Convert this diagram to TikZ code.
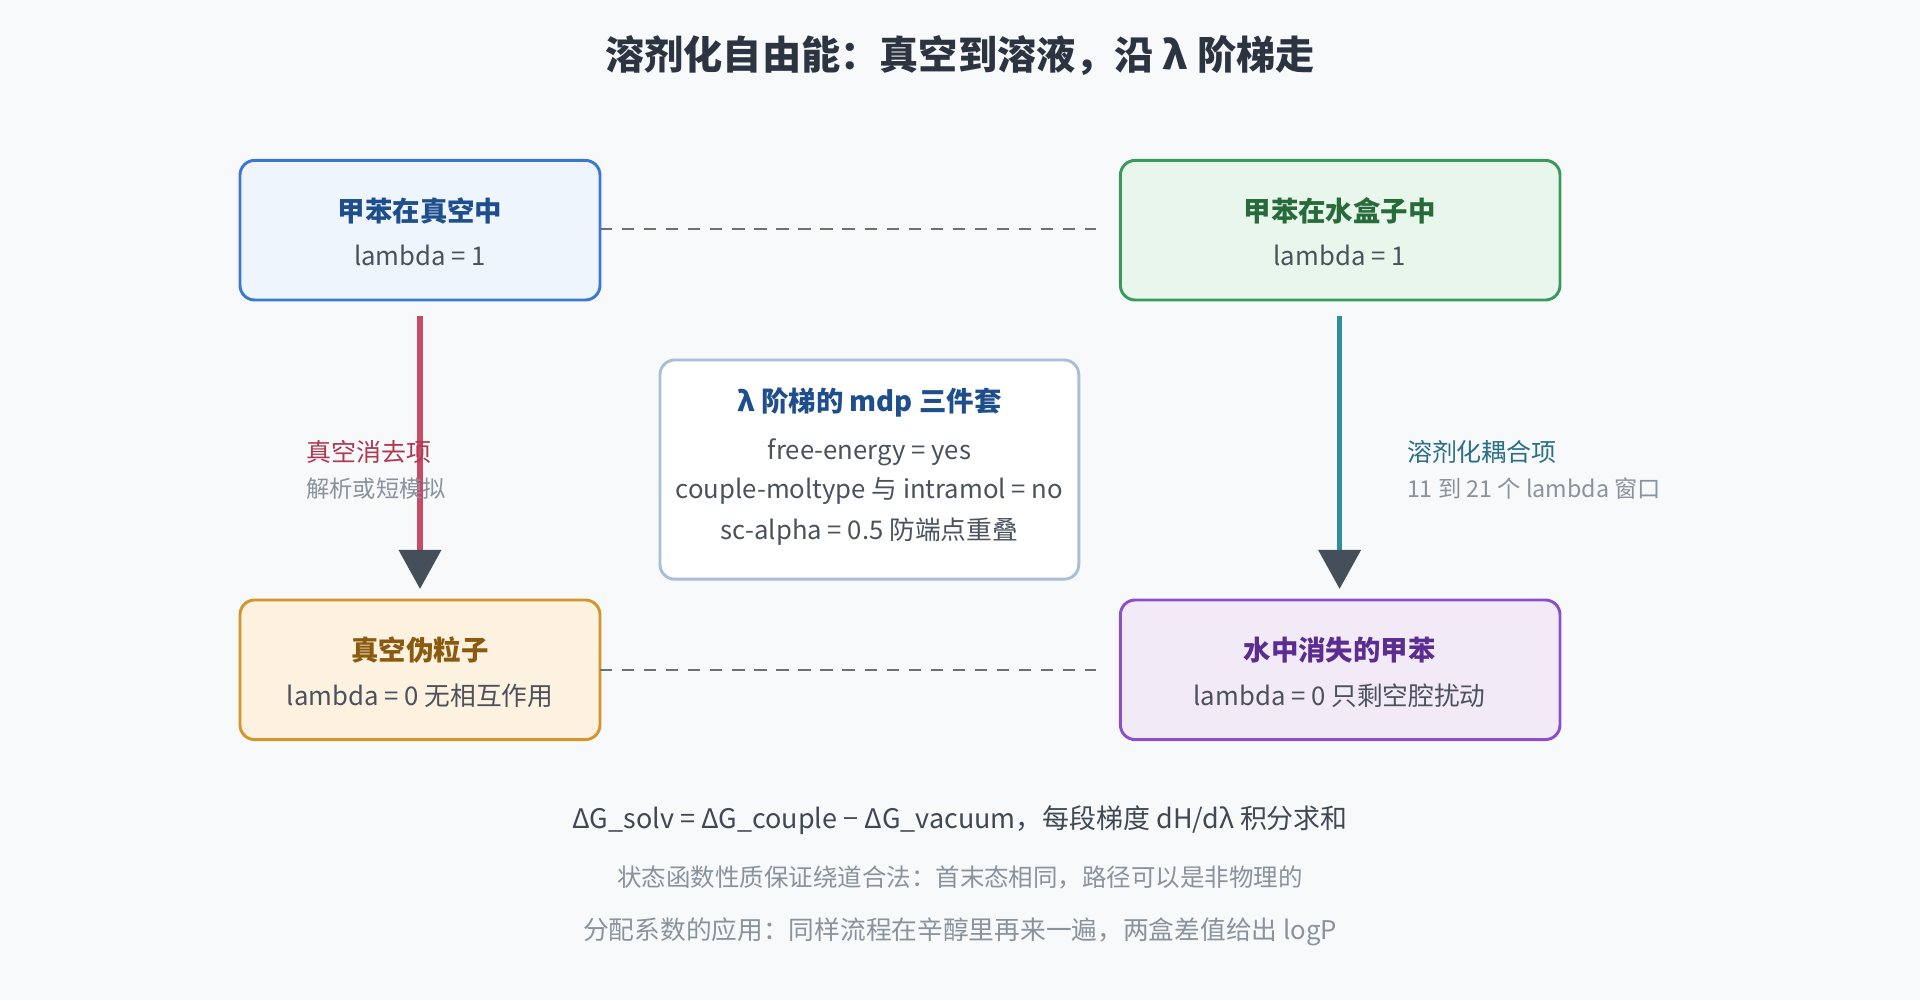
\documentclass[tikz,border=0pt]{standalone}
\usepackage{fontspec}
\setmainfont{Noto Sans CJK SC}
\usetikzlibrary{arrows.meta}
\definecolor{bg}{HTML}{F7F9FB}
\definecolor{ink}{HTML}{2B3440}
\definecolor{gr}{HTML}{8A939C}
\definecolor{ahead}{HTML}{444F5A}
\definecolor{blS}{HTML}{3A78D4}\definecolor{blF}{HTML}{EEF5FD}\definecolor{blT}{HTML}{1F4E8C}
\definecolor{gnS}{HTML}{3A9A5B}\definecolor{gnF}{HTML}{E9F6EC}\definecolor{gnT}{HTML}{276B3A}
\definecolor{orS}{HTML}{D4952A}\definecolor{orF}{HTML}{FDF1DF}\definecolor{orT}{HTML}{8A5A10}
\definecolor{puS}{HTML}{8B4FC8}\definecolor{puF}{HTML}{F3EAF8}\definecolor{puT}{HTML}{5B2D91}
\definecolor{mdS}{HTML}{A9BFD8}
\definecolor{redA}{HTML}{C94A64}\definecolor{redT}{HTML}{B0384F}
\definecolor{tlA}{HTML}{2F8FA0}\definecolor{tlT}{HTML}{2B6F86}
\begin{document}
\begin{tikzpicture}[x=0.5pt,y=-0.5pt,
 box/.style={draw,rounded corners=6pt,line width=1.2pt,align=center},
 dashline/.style={draw=ahead!80,line width=1pt,dash pattern=on 5pt off 4pt},
 arr/.style={line width=2.2pt,-{Triangle[length=16pt,width=17pt,color=ahead]}},
 bt/.style={font=\fontsize{11.2}{13}\selectfont\bfseries},
 bd/.style={font=\fontsize{10.5}{13}\selectfont},
 sm/.style={font=\fontsize{9.5}{12}\selectfont,text=gr}]
\fill[bg] (0,0) rectangle (1568,817);
\useasboundingbox (0,0) rectangle (1568,817);
\node[font=\fontsize{16}{18}\selectfont\bfseries,text=ink] (title) at (784,45) {溶剂化自由能：真空到溶液，沿 λ 阶梯走};
% boxes
\draw[box,draw=blS,fill=blF] (196,131) rectangle (490,245);
\node[bt,text=blT] (a) at (343,172) {甲苯在真空中};
\node[bd,text=ink!85] (a2) at (343,209) {lambda = 1};
\draw[box,draw=gnS,fill=gnF] (915,131) rectangle (1274,245);
\node[bt,text=gnT] (b) at (1094,172) {甲苯在水盒子中};
\node[bd,text=ink!85] (b2) at (1094,209) {lambda = 1};
\draw[box,draw=orS,fill=orF] (196,490) rectangle (490,604);
\node[bt,text=orT] (c) at (343,531) {真空伪粒子};
\node[bd,text=ink!85] (c2) at (343,568) {lambda = 0 无相互作用};
\draw[box,draw=puS,fill=puF] (915,490) rectangle (1274,604);
\node[bt,text=puT] (d) at (1094,531) {水中消失的甲苯};
\node[bd,text=ink!85] (d2) at (1094,568) {lambda = 0 只剩空腔扰动};
\draw[box,draw=mdS,fill=white] (539,294) rectangle (881,473);
\node[bt,text=blT] (m) at (710,329) {λ 阶梯的 mdp 三件套};
\node[bd,text=ink!85] (m1) at (710,369) {free-energy = yes};
\node[bd,text=ink!85] (m2) at (710,401) {couple-moltype 与 intramol = no};
\node[bd,text=ink!85] (m3) at (710,434) {sc-alpha = 0.5 防端点重叠};
% coordinates
\coordinate (aS) at (343,258); \coordinate (cN) at (343,481);
\coordinate (bS) at (1094,258); \coordinate (dN) at (1094,481);
\coordinate (aE) at (490,187); \coordinate (bW) at (895,187);
\coordinate (cE) at (490,547); \coordinate (dW) at (895,547);
\draw[dashline] (aE) -- (bW);
\draw[dashline] (cE) -- (dW);
\draw[arr,draw=redA] (aS) -- (cN);
\draw[arr,draw=tlA] (bS) -- (dN);
\node[font=\fontsize{10.2}{12}\selectfont,text=redT,anchor=west] (l1) at (243,369) {真空消去项};
\node[sm,anchor=west] (l2) at (243,399) {解析或短模拟};
\node[font=\fontsize{10.2}{12}\selectfont,text=tlT,anchor=west] (r1) at (1142,369) {溶剂化耦合项};
\node[sm,anchor=west] (r2) at (1142,399) {11 到 21 个 lambda 窗口};
\node[font=\fontsize{11}{13}\selectfont,text=ink!90] (f1) at (784,670) {ΔG\_solv = ΔG\_couple − ΔG\_vacuum，每段梯度 dH/dλ 积分求和};
\node[font=\fontsize{10}{12}\selectfont,text=gr] (f2) at (784,717) {状态函数性质保证绕道合法：首末态相同，路径可以是非物理的};
\node[font=\fontsize{10.5}{12}\selectfont,text=gr] (f3) at (784,761) {分配系数的应用：同样流程在辛醇里再来一遍，两盒差值给出 logP};
\end{tikzpicture}
\end{document}
